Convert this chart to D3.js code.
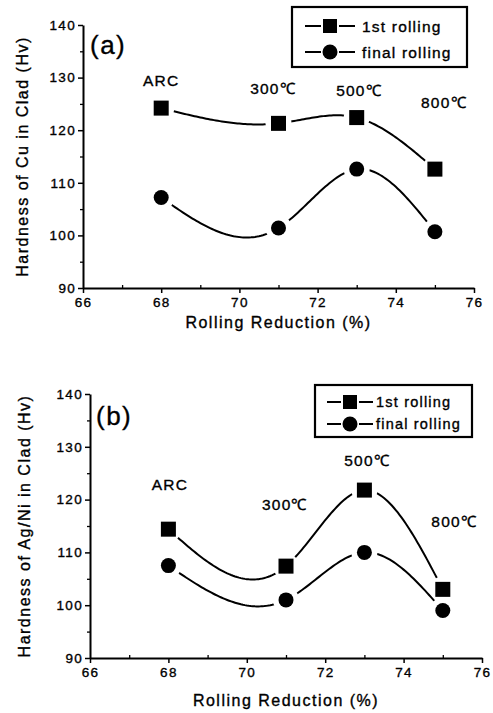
<!DOCTYPE html>
<html>
<head>
<meta charset="utf-8">
<script src="https://cdn.jsdelivr.net/npm/d3@7"></script>
<style>
  body { margin: 0; background: #fff; }
  svg text { font-family: "Liberation Sans", Arial, sans-serif; fill: #000; stroke: #000; stroke-width: 0.35px; }
</style>
</head>
<body>
<svg id="chart" width="493" height="713"></svg>
<script>
// data
var reduction = [68, 71, 73, 75];
var tempLabels = ["ARC", "300\u2103", "500\u2103", "800\u2103"];
var cuFirst = [124.2, 121.3, 122.4, 112.6];
var cuFinal = [107.2, 101.4, 112.6, 100.7];
var agFirst = [114.4, 107.4, 121.8, 103.0];
var agFinal = [107.5, 101.0, 110.0, 99.0];
var xTicks = [66, 68, 70, 72, 74, 76];
var yTicks = [90, 100, 110, 120, 130, 140];
var seriesNames = ["1st rolling", "final rolling"];

var svg = d3.select("#chart");

// natural cubic spline y(x), like Origin's spline connect
function naturalSpline(xs, ys) {
  var n = xs.length, h = [], M = new Array(n).fill(0);
  for (var i = 0; i < n - 1; i++) h.push(xs[i + 1] - xs[i]);
  // tridiagonal solve for interior second derivatives
  var a = [], b = [], c = [], r = [];
  for (var i = 1; i < n - 1; i++) {
    a.push(h[i - 1]); b.push(2 * (h[i - 1] + h[i])); c.push(h[i]);
    r.push(6 * ((ys[i + 1] - ys[i]) / h[i] - (ys[i] - ys[i - 1]) / h[i - 1]));
  }
  var m = b.length;
  for (var i = 1; i < m; i++) {
    var w = a[i] / b[i - 1];
    b[i] -= w * c[i - 1]; r[i] -= w * r[i - 1];
  }
  var sol = new Array(m);
  for (var i = m - 1; i >= 0; i--) sol[i] = (r[i] - (i < m - 1 ? c[i] * sol[i + 1] : 0)) / b[i];
  for (var i = 0; i < m; i++) M[i + 1] = sol[i];
  return function(x) {
    var k = 0;
    while (k < n - 2 && x > xs[k + 1]) k++;
    var hk = h[k], A = xs[k + 1] - x, B = x - xs[k];
    return M[k] * A * A * A / (6 * hk) + M[k + 1] * B * B * B / (6 * hk)
      + (ys[k] / hk - M[k] * hk / 6) * A + (ys[k + 1] / hk - M[k + 1] * hk / 6) * B;
  };
}

var panels = [
  { id: "a", tag: "(a)", ytitle: "Hardness of Cu in Clad (Hv)",
    first: cuFirst, final: cuFinal,
    x0: 83, x1: 474, y0: 288, y1: 25,
    ann: [[68.0, 129.4], [70.86, 128.0], [73.06, 127.6], [75.23, 125.2]],
    legend: { x: 292, y: 7, w: 175, h: 60, r1: 26, r2: 52, l0: 305, l1: 355, tx: 362, fs: 15.5 },
    tagPos: [90, 45], xtitleY: 328, ytitleX: 22 },
  { id: "b", tag: "(b)", ytitle: "Hardness of Ag/Ni in Clad (Hv)",
    first: agFirst, final: agFinal,
    x0: 90, x1: 482, y0: 658, y1: 394,
    ann: [[68.04, 122.8], [70.97, 119.0], [73.07, 127.5], [75.29, 115.8]],
    legend: { x: 315, y: 385, w: 157, h: 52, r1: 402, r2: 424, l0: 327, l1: 373, tx: 376, fs: 14.5 },
    tagPos: [96, 416], xtitleY: 706, ytitleX: 24 }
];

panels.forEach(function(p) {
  var x = d3.scaleLinear().domain([66, 76]).range([p.x0, p.x1]);
  var y = d3.scaleLinear().domain([90, 140]).range([p.y0, p.y1]);
  var g = svg.append("g");

  // minor ticks
  g.append("g").attr("transform", "translate(0," + p.y0 + ")")
    .call(d3.axisBottom(x).tickValues(d3.range(67, 76, 2)).tickSize(-3).tickFormat(""))
    .call(function(s) { s.select(".domain").remove(); s.selectAll("line").attr("stroke-width", 1.3); });
  g.append("g").attr("transform", "translate(" + p.x0 + ",0)")
    .call(d3.axisLeft(y).tickValues(d3.range(95, 140, 10)).tickSize(3).tickFormat(""))
    .call(function(s) { s.select(".domain").remove(); s.selectAll("line").attr("stroke-width", 1.3); });

  // major axes
  var xa = g.append("g").attr("transform", "translate(0," + p.y0 + ")")
    .call(d3.axisBottom(x).tickValues(xTicks).tickSize(5).tickSizeOuter(0).tickPadding(3).tickFormat(d3.format("d")));
  var ya = g.append("g").attr("transform", "translate(" + p.x0 + ",0)")
    .call(d3.axisLeft(y).tickValues(yTicks).tickSize(5).tickSizeOuter(0).tickPadding(3).tickFormat(d3.format("d")));
  [xa, ya].forEach(function(a) {
    a.select(".domain").attr("stroke-width", 2);
    a.selectAll("line").attr("stroke-width", 1.5);
    a.selectAll("text").attr("font-size", 13.5).attr("letter-spacing", 1.3)
      .attr("font-family", "Liberation Sans, Arial, sans-serif").attr("fill", "#000");
  });
  ya.selectAll("text").attr("dx", 1);
  xa.selectAll("text").attr("dy", "0.8em");

  // axis titles
  g.append("text").attr("x", (p.x0 + p.x1) / 2).attr("y", p.xtitleY)
    .attr("text-anchor", "middle").attr("font-size", 16).attr("letter-spacing", 1.5)
    .text("Rolling Reduction (%)");
  g.append("text").attr("transform", "translate(" + p.ytitleX + "," + (p.y0 + p.y1) / 2 + ") rotate(-90)")
    .attr("text-anchor", "middle").attr("dominant-baseline", "central")
    .attr("font-size", 16).attr("letter-spacing", 1.5)
    .text(p.ytitle);

  // panel tag
  g.append("text").attr("x", p.tagPos[0]).attr("y", p.tagPos[1])
    .attr("dominant-baseline", "central").attr("font-size", 26).attr("letter-spacing", 1.5)
    .text(p.tag);

  // temperature annotations
  g.selectAll(".ann").data(tempLabels).enter().append("text")
    .attr("x", function(d, i) { return x(p.ann[i][0]); })
    .attr("y", function(d, i) { return y(p.ann[i][1]); })
    .attr("text-anchor", "middle").attr("dominant-baseline", "central")
    .attr("font-size", 15.5).attr("letter-spacing", 1.2)
    .text(function(d) { return d; });

  // series lines with gaps round the markers (Origin style)
  var line = d3.line().x(function(d) { return x(d[0]); }).y(function(d) { return y(d[1]); });
  [p.first, p.final].forEach(function(vals, si) {
    var pts = reduction.map(function(r, i) { return [r, vals[i]]; });
    var f = naturalSpline(reduction, vals);
    var path = d3.range(reduction[0], reduction[reduction.length - 1] + 0.001, 0.05)
      .map(function(xv) { return [xv, f(xv)]; });
    var mid = "m" + p.id + si;
    var mask = svg.append("defs").append("mask").attr("id", mid)
      .attr("maskUnits", "userSpaceOnUse").attr("x", 0).attr("y", 0).attr("width", 493).attr("height", 713);
    mask.append("rect").attr("width", 493).attr("height", 713).attr("fill", "#fff");
    mask.selectAll("circle").data(pts).enter().append("circle")
      .attr("cx", function(d) { return x(d[0]); }).attr("cy", function(d) { return y(d[1]); })
      .attr("r", 13).attr("fill", "#000");
    g.append("path").datum(path).attr("d", line).attr("fill", "none")
      .attr("stroke", "#000").attr("stroke-width", 2).attr("mask", "url(#" + mid + ")");
    if (si === 0) {
      g.selectAll(".sq" + si).data(pts).enter().append("rect")
        .attr("x", function(d) { return x(d[0]) - 7.5; }).attr("y", function(d) { return y(d[1]) - 7.5; })
        .attr("width", 15).attr("height", 15).attr("fill", "#000");
    } else {
      g.selectAll(".ci" + si).data(pts).enter().append("circle")
        .attr("cx", function(d) { return x(d[0]); }).attr("cy", function(d) { return y(d[1]); })
        .attr("r", 7.5).attr("fill", "#000");
    }
  });

  // legend
  var L = p.legend;
  var lg = g.append("g");
  lg.append("rect").attr("x", L.x).attr("y", L.y).attr("width", L.w).attr("height", L.h)
    .attr("fill", "none").attr("stroke", "#000").attr("stroke-width", 2.2);
  [L.r1, L.r2].forEach(function(ry, i) {
    var cx = (L.l0 + L.l1) / 2;
    lg.append("line").attr("x1", L.l0).attr("x2", cx - 9).attr("y1", ry).attr("y2", ry)
      .attr("stroke", "#000").attr("stroke-width", 2);
    lg.append("line").attr("x1", cx + 9).attr("x2", L.l1).attr("y1", ry).attr("y2", ry)
      .attr("stroke", "#000").attr("stroke-width", 2);
    if (i === 0) {
      lg.append("rect").attr("x", cx - 7).attr("y", ry - 7).attr("width", 14).attr("height", 14).attr("fill", "#000");
    } else {
      lg.append("circle").attr("cx", cx).attr("cy", ry).attr("r", 7.5).attr("fill", "#000");
    }
    lg.append("text").attr("x", L.tx).attr("y", ry).attr("dominant-baseline", "central")
      .attr("font-size", L.fs).attr("letter-spacing", 1.2).text(seriesNames[i]);
  });
});
</script>
</body>
</html>
